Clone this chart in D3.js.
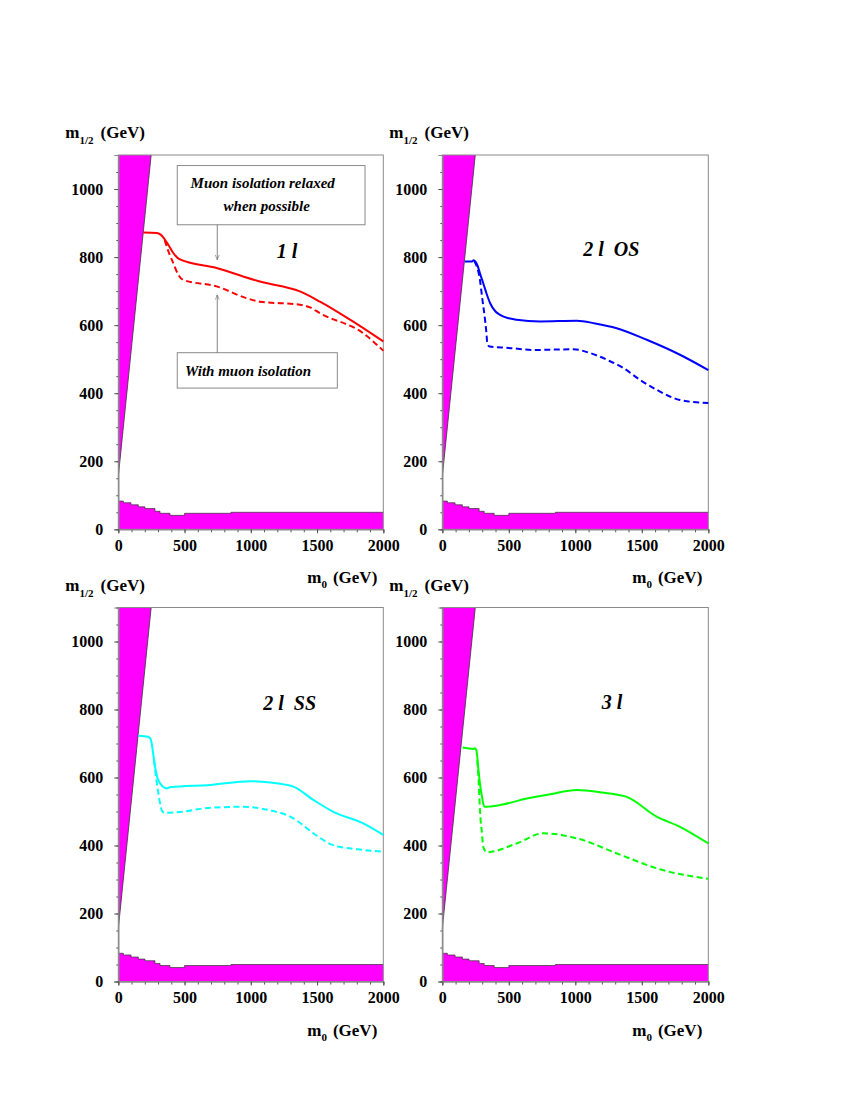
<!DOCTYPE html>
<html>
<head>
<meta charset="utf-8">
<script src="https://cdn.jsdelivr.net/npm/d3@7"></script>
<style>
  body { margin: 0; background: #fff; }
  svg { display: block; }
  text { font-family: "Liberation Serif", "Times New Roman", serif; }
</style>
</head>
<body>
<svg id="chart" width="850" height="1100"></svg>
<script>
// ---------------- DATA ----------------
const xDomain = [0, 2000];
const yDomain = [0, 1100];
const xTickValues = [0, 500, 1000, 1500, 2000];
const yTickValues = [0, 200, 400, 600, 800, 1000];
const xMinorTicks = d3.range(0, 2001, 100);
const yMinorTicks = d3.range(0, 1101, 50);

const panelLabels = ["1 l", "2 l  OS", "2 l  SS", "3 l"];
const panelLabelM0 = [1195, 1060, 1094, 1199];
const panelLabelM12 = [798, 802, 800, 801];

// theoretically excluded wedge (m0, m1/2)
const excludedWedge = [[0, 155], [0, 1100], [248, 1100]];
// experimentally excluded region (step boundary)
const lepStepM0  = [0, 38, 96, 151, 201, 277, 315, 390, 500, 850, 2000];
const lepStepM12 = [83, 78, 72, 66, 61, 53, 47, 41, 47, 50, 50];

// 1 lepton
const oneLRelaxed = [[190,872],[290,871],[320,866],[345,855],[377,836],[415,812],[461,794],[742,768],[1069,728],[1371,699],[1522,669],[1749,616],[2000,552]];
const oneLIsolated = [[350,850],[380,815],[415,782],[453,748],[490,733],[742,714],[969,679],[1069,669],[1371,660],[1447,652],[1522,635],[1849,576],[2000,525]];
// 2 leptons opposite sign
const twoLOSRelaxed = [[170,787],[225,787],[235,791],[250,786],[265,775],[285,750],[308,723],[335,690],[359,665],[400,640],[434,630],[500,620],[559,616],[735,611],[1011,613],[1150,605],[1311,591],[1537,557],[1787,513],[2000,468]];
const twoLOSIsolated = [[240,788],[262,770],[283,733],[300,680],[320,620],[332,576],[338,548],[355,537],[500,533],[684,527],[985,529],[1111,518],[1250,496],[1361,474],[1487,439],[1612,410],[1787,380],[2000,371]];
// 2 leptons same sign
const twoLSSRelaxed = [[151,723],[226,720],[245,712],[252,700],[265,665],[277,632],[295,600],[315,583],[340,572],[365,568],[390,571],[692,578],[994,589],[1150,585],[1321,573],[1472,534],[1623,499],[1849,465],[2000,431]];
const twoLSSIsolated = [[270,650],[285,600],[300,560],[315,524],[330,502],[352,496],[500,500],[641,509],[943,514],[1100,507],[1321,480],[1472,436],[1623,401],[1849,387],[2000,382]];
// 3 leptons
const threeLRelaxed = [[153,688],[233,684],[245,686],[255,682],[263,661],[270,630],[283,583],[300,540],[316,514],[434,519],[635,538],[810,551],[1011,563],[1200,556],[1387,543],[1612,485],[1787,455],[2000,406]];
const threeLIsolated = [[263,650],[272,600],[280,530],[289,470],[296,445],[308,396],[334,380],[559,406],[760,436],[1011,421],[1336,373],[1637,330],[2000,302]];

const seriesColors = ["#ff0000", "#0000ff", "#00ffff", "#00ff00"];
const relaxedSeries = [oneLRelaxed, twoLOSRelaxed, twoLSSRelaxed, threeLRelaxed];
const isolatedSeries = [oneLIsolated, twoLOSIsolated, twoLSSIsolated, threeLIsolated];

// ---------------- LAYOUT ----------------
const svg = d3.select("#chart");
const panels = [
  {left: 118.3, right: 383.3, top: 155, bottom: 529.3},
  {left: 442.3, right: 708.3, top: 155, bottom: 529.3},
  {left: 118.3, right: 383.3, top: 607.5, bottom: 981.5},
  {left: 442.3, right: 708.3, top: 607.5, bottom: 981.5}
];
const magenta = "#ff00ff";
const frameGray = "#8a8a8a";

svg.append("defs").append("marker")
  .attr("id", "arrow").attr("viewBox", "0 0 10 10")
  .attr("refX", 10).attr("refY", 5)
  .attr("markerWidth", 6).attr("markerHeight", 6)
  .attr("orient", "auto-start-reverse")
  .append("path").attr("d", "M0,1 L10,5 L0,9")
  .attr("fill", "none").attr("stroke", "#666").attr("stroke-width", 1.2);

panels.forEach((p, i) => {
  const x = d3.scaleLinear().domain(xDomain).range([p.left, p.right]);
  const y = d3.scaleLinear().domain(yDomain).range([p.bottom, p.top]);
  const g = svg.append("g");

  // wedge
  g.append("path")
    .attr("d", d3.line().x(d => x(d[0])).y(d => y(d[1]))(excludedWedge) + "Z")
    .attr("fill", magenta).attr("stroke", "none");
  g.append("line")
    .attr("x1", x(excludedWedge[0][0])).attr("y1", y(excludedWedge[0][1]))
    .attr("x2", x(excludedWedge[2][0])).attr("y2", y(excludedWedge[2][1]))
    .attr("stroke", "#333").attr("stroke-width", 0.8);

  // step region
  const steps = lepStepM0.map((m, k) => [m, lepStepM12[k]]);
  g.append("path")
    .attr("d", d3.area().curve(d3.curveStepAfter)
      .x(d => x(d[0])).y0(y(0)).y1(d => y(d[1]))(steps))
    .attr("fill", magenta);
  g.append("path")
    .attr("d", d3.line().curve(d3.curveStepAfter)
      .x(d => x(d[0])).y(d => y(d[1]))(steps))
    .attr("fill", "none").attr("stroke", "#333").attr("stroke-width", 0.7);

  // frame
  g.append("rect")
    .attr("x", p.left).attr("y", p.top)
    .attr("width", p.right - p.left).attr("height", p.bottom - p.top)
    .attr("fill", "none").attr("stroke", frameGray).attr("stroke-width", 1);

  // curves
  const lineGen = d3.line().curve(d3.curveMonotoneX).x(d => x(d[0])).y(d => y(d[1]));
  g.append("path").attr("d", lineGen(isolatedSeries[i]))
    .attr("fill", "none").attr("stroke", seriesColors[i])
    .attr("stroke-width", 2).attr("stroke-dasharray", "6,3.5");
  g.append("path").attr("d", lineGen(relaxedSeries[i]))
    .attr("fill", "none").attr("stroke", seriesColors[i])
    .attr("stroke-width", 2);

  // axes
  const styleAxis = sel => {
    sel.select(".domain").attr("stroke", frameGray);
    sel.selectAll(".tick line").attr("stroke", "#555");
    sel.selectAll("text").attr("font-family", "Liberation Serif")
      .attr("font-weight", "bold").attr("font-size", 16).attr("fill", "#000");
  };
  g.append("g").attr("transform", `translate(${p.left},0)`)
    .call(d3.axisLeft(y).tickValues(yMinorTicks).tickSize(2).tickFormat(""))
    .call(styleAxis);
  g.append("g").attr("transform", `translate(${p.left},0)`)
    .call(d3.axisLeft(y).tickValues(yTickValues).tickSize(4).tickPadding(11).tickFormat(d3.format("d")))
    .call(styleAxis);
  g.append("g").attr("transform", `translate(0,${p.bottom})`)
    .call(d3.axisBottom(x).tickValues(xMinorTicks).tickSize(3).tickFormat(""))
    .call(styleAxis);
  g.append("g").attr("transform", `translate(0,${p.bottom})`)
    .call(d3.axisBottom(x).tickValues(xTickValues).tickSize(4).tickPadding(6).tickFormat(d3.format("d")))
    .call(styleAxis);

  // axis titles
  const yt = g.append("text").attr("x", p.left - 53).attr("y", p.top - 17)
    .attr("font-weight", "bold").attr("font-size", 17);
  yt.append("tspan").text("m");
  yt.append("tspan").attr("font-size", 11).attr("dy", 6).text("1/2");
  yt.append("tspan").attr("dy", -6).attr("dx", 7).text("(GeV)");

  const xt = g.append("text").attr("x", p.right - 6).attr("y", p.bottom + 54)
    .attr("text-anchor", "end").attr("font-weight", "bold").attr("font-size", 17);
  xt.append("tspan").text("m");
  xt.append("tspan").attr("font-size", 11).attr("dy", 5).text("0");
  xt.append("tspan").attr("dy", -5).attr("dx", 6).text("(GeV)");

  // panel label
  g.append("text").attr("x", x(panelLabelM0[i])).attr("y", y(panelLabelM12[i]))
    .attr("font-weight", "bold").attr("font-style", "italic").attr("font-size", 20)
    .style("white-space", "pre").text(panelLabels[i]);

  // annotations in first panel
  if (i === 0) {
    g.append("rect").attr("x", x(445)).attr("y", y(1069))
      .attr("width", x(1862) - x(445)).attr("height", y(895) - y(1069))
      .attr("fill", "#fff").attr("stroke", frameGray).attr("stroke-width", 1);
    g.append("text").attr("x", x(1090)).attr("y", y(1003)).attr("text-anchor", "middle")
      .attr("font-weight", "bold").attr("font-style", "italic").attr("font-size", 15)
      .text("Muon isolation relaxed");
    g.append("text").attr("x", x(1120)).attr("y", y(934)).attr("text-anchor", "middle")
      .attr("font-weight", "bold").attr("font-style", "italic").attr("font-size", 15)
      .text("when possible");
    g.append("line").attr("x1", x(747)).attr("y1", y(895)).attr("x2", x(747)).attr("y2", y(792))
      .attr("stroke", "#666").attr("stroke-width", 0.8).attr("marker-end", "url(#arrow)");

    g.append("rect").attr("x", x(445)).attr("y", y(519))
      .attr("width", x(1653) - x(445)).attr("height", y(415) - y(519))
      .attr("fill", "#fff").attr("stroke", frameGray).attr("stroke-width", 1);
    g.append("text").attr("x", x(503)).attr("y", y(451))
      .attr("font-weight", "bold").attr("font-style", "italic").attr("font-size", 15)
      .text("With muon isolation");
    g.append("line").attr("x1", x(747)).attr("y1", y(519)).attr("x2", x(747)).attr("y2", y(689))
      .attr("stroke", "#666").attr("stroke-width", 0.8).attr("marker-end", "url(#arrow)");
  }
});
</script>
</body>
</html>
